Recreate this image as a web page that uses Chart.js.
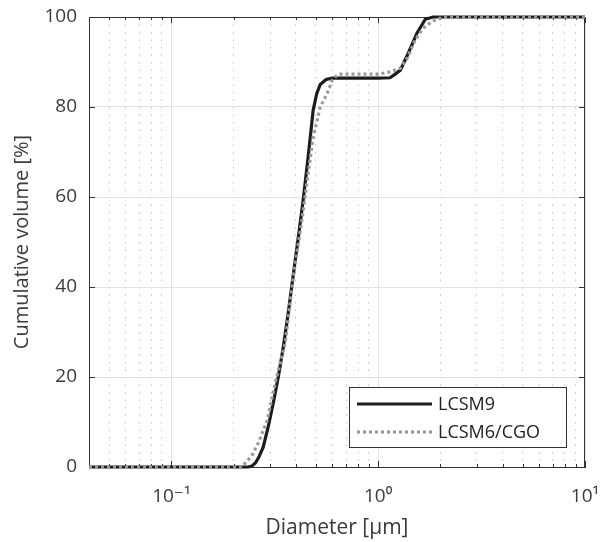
<!DOCTYPE html>
<html>
<head>
<meta charset="utf-8">
<script src="https://cdn.jsdelivr.net/npm/chart.js@4"></script>
<style>
  html, body { margin: 0; padding: 0; background: #fff; }
  #wrap { width: 602px; height: 542px; position: relative; }
</style>
</head>
<body>
<div id="wrap"><canvas id="chart"></canvas></div>
<script>
// particle size distributions
const lcsm9Diam = [0.04, 0.1, 0.2, 0.235, 0.245, 0.255, 0.265, 0.278, 0.294, 0.311, 0.329, 0.348, 0.367, 0.384, 0.411, 0.434, 0.459, 0.485, 0.505, 0.525, 0.56, 0.6, 0.8, 1.0, 1.14, 1.2, 1.28, 1.4, 1.54, 1.69, 1.84, 3, 10]
const lcsm9Vol  = [0, 0, 0, 0, 0.2, 0.9, 2.2, 4.4, 8.9, 14.2, 20, 26.7, 34, 40.9, 51, 59.3, 69, 79.3, 83, 85, 86.1, 86.4, 86.4, 86.4, 86.5, 87.2, 88.2, 92, 96.4, 99.5, 100, 100, 100]

const cgoDiam = [0.04, 0.1, 0.2, 0.22, 0.228, 0.245, 0.263, 0.291, 0.318, 0.355, 0.388, 0.43, 0.459, 0.485, 0.525, 0.567, 0.6, 0.641, 0.8, 1.0, 1.14, 1.28, 1.38, 1.51, 1.65, 1.82, 2.06, 3, 10]
const cgoVol  = [0, 0, 0, 0, 0.9, 2.5, 5.3, 10.4, 18.7, 27.5, 42, 55.6, 65.3, 73.3, 80, 83, 86, 87.3, 87.3, 87.3, 87.8, 88.6, 90.8, 94.9, 97.5, 99, 100, 100, 100]

const xLabels = { 0.1: "10⁻¹", 1: "10⁰", 10: "10¹" }
const yTicks = [0, 20, 40, 60, 80, 100]

const FONT = "'Open Sans', 'DejaVu Sans', sans-serif"
const TEXT = "#3a3a3a"
const AXIS = "#333333"

const isDecade = v => Math.abs(Math.log10(v) - Math.round(Math.log10(v))) < 1e-6
// keep only 1..9 x 10^n (chart.js also adds 1.5 x 10^n)
const isWholeStep = v => {
  const m = v / Math.pow(10, Math.floor(Math.log10(v) + 1e-9))
  return Math.abs(m - Math.round(m)) < 1e-6
}
const toPoints = (xs, ys) => xs.map((d, i) => ({ x: d, y: ys[i] }))

// box, inside ticks (drawn under the data like the original)
const frame = {
  id: "frame",
  beforeDatasetsDraw(chart) {
    const { ctx, chartArea: a, scales: { x, y } } = chart
    ctx.save()
    ctx.strokeStyle = AXIS
    ctx.lineWidth = 1
    ctx.beginPath()
    ctx.moveTo(a.left, a.top + 0.5); ctx.lineTo(a.right, a.top + 0.5)
    ctx.moveTo(a.right - 0.5, a.top); ctx.lineTo(a.right - 0.5, a.bottom)
    x.ticks.forEach(t => {
      const px = Math.round(x.getPixelForValue(t.value)) + 0.5
      const len = isDecade(t.value) ? 6 : 3
      ctx.moveTo(px, a.bottom); ctx.lineTo(px, a.bottom - len)
      ctx.moveTo(px, a.top); ctx.lineTo(px, a.top + len)
    })
    y.ticks.forEach(t => {
      const py = Math.round(y.getPixelForValue(t.value)) + 0.5
      ctx.moveTo(a.left, py); ctx.lineTo(a.left + 6, py)
      ctx.moveTo(a.right, py); ctx.lineTo(a.right - 6, py)
    })
    ctx.stroke()
    ctx.restore()
  }
}

// legend box in the lower right corner of the plot
const boxLegend = {
  id: "boxLegend",
  afterDraw(chart) {
    const { ctx, chartArea: a } = chart
    const w = 218, h = 61
    const left = a.right - 18 - w, top = a.bottom - 19 - h
    ctx.save()
    ctx.fillStyle = "#fff"
    ctx.fillRect(left, top, w, h)
    ctx.strokeStyle = AXIS
    ctx.lineWidth = 1
    ctx.strokeRect(left + 0.5, top + 0.5, w - 1, h - 1)
    chart.data.datasets.forEach((ds, i) => {
      const rowY = top + 17 + i * 28
      ctx.beginPath()
      ctx.strokeStyle = ds.borderColor
      ctx.lineWidth = ds.borderWidth
      ctx.setLineDash(ds.borderDash || [])
      ctx.moveTo(left + 8, rowY); ctx.lineTo(left + 83, rowY)
      ctx.stroke()
      ctx.setLineDash([])
      ctx.fillStyle = "#222"
      ctx.font = `18px ${FONT}`
      ctx.textBaseline = "middle"
      ctx.fillText(ds.label, left + 89, rowY + 1)
    })
    ctx.restore()
  }
}

new Chart(document.getElementById("chart"), {
  type: "line",
  data: {
    datasets: [{
      label: "LCSM9",
      data: toPoints(lcsm9Diam, lcsm9Vol),
      borderColor: "#1c1c1c",
      borderWidth: 3.2,
      pointRadius: 0,
      tension: 0,
      clip: 4,
      order: 2
    }, {
      label: "LCSM6/CGO",
      data: toPoints(cgoDiam, cgoVol),
      borderColor: "#9a9a9a",
      borderWidth: 3.2,
      borderDash: [3, 3],
      borderCapStyle: "butt",
      pointRadius: 0,
      tension: 0,
      clip: 4,
      order: 1
    }]
  },
  options: {
    responsive: true,
    maintainAspectRatio: false,
    animation: false,
    layout: { padding: { top: 17, right: 17, left: 0, bottom: 0 } },
    plugins: {
      legend: { display: false },
      tooltip: { enabled: false }
    },
    scales: {
      x: {
        type: "logarithmic",
        min: 0.04,
        max: 10,
        afterBuildTicks: s => { s.ticks = s.ticks.filter(t => isWholeStep(t.value)) },
        afterFit: s => { s.height = 75; s.paddingLeft = 0; s.paddingRight = 0 },
        ticks: {
          autoSkip: false,
          maxRotation: 0,
          padding: 18,
          color: TEXT,
          font: { family: FONT, size: 19 },
          callback: v => xLabels[v] || ""
        },
        grid: {
          drawTicks: false,
          color: ctx => ctx.tick && isDecade(ctx.tick.value) ? "#e2e2e2" : "#c2c2c2"
        },
        border: {
          color: AXIS,
          width: 1,
          dash: ctx => ctx.tick && !isDecade(ctx.tick.value) ? [1.5, 6] : []
        },
        title: {
          display: true,
          text: "Diameter [µm]",
          color: TEXT,
          font: { family: FONT, size: 21 },
          padding: { top: 0, bottom: 1 }
        }
      },
      y: {
        min: 0,
        max: 100,
        afterBuildTicks: s => { s.ticks = yTicks.map(v => ({ value: v })) },
        afterFit: s => { s.width = 89; s.paddingTop = 0; s.paddingBottom = 0 },
        ticks: {
          padding: 12,
          color: TEXT,
          font: { family: FONT, size: 19 }
        },
        grid: { drawTicks: false, color: "#e2e2e2" },
        border: { color: AXIS, width: 1 },
        title: {
          display: true,
          text: "Cumulative volume [%]",
          color: TEXT,
          font: { family: FONT, size: 20 },
          padding: { top: 10, bottom: 0 }
        }
      }
    }
  },
  plugins: [frame, boxLegend]
})
</script>
</body>
</html>
